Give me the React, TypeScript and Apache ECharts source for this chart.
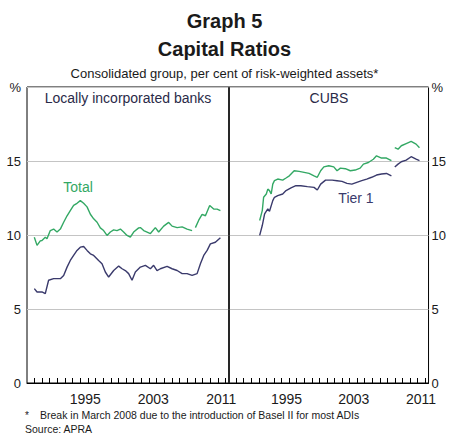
import React, { useEffect, useRef } from "react";
import * as echarts from "echarts";

// ---- Data (decimal year, per cent) ----
const banksTotalPre: [number, number][] = [
  [1989.51, 9.85], [1989.83, 9.3], [1990.21, 9.6], [1990.41, 9.63], [1990.8, 9.85], [1991.0, 9.74],
  [1991.39, 10.3], [1991.78, 10.4], [1992.18, 10.2], [1992.57, 10.4], [1992.96, 10.86], [1993.36, 11.3],
  [1993.74, 11.65], [1994.13, 12.0], [1994.53, 12.14], [1994.92, 12.32], [1995.31, 12.14], [1995.71, 11.9],
  [1996.1, 11.4], [1996.49, 11.09], [1996.89, 10.86], [1997.27, 10.48], [1997.66, 10.3], [1998.06, 9.97],
  [1998.45, 10.2], [1998.84, 10.35], [1999.23, 10.3], [1999.63, 10.4], [2000.01, 10.2], [2000.41, 9.97],
  [2000.8, 9.85], [2001.19, 10.2], [2001.78, 10.48], [2001.98, 10.5], [2002.37, 10.3], [2002.77, 10.2],
  [2003.16, 10.1], [2003.74, 10.5], [2004.13, 10.2], [2004.72, 10.6], [2005.31, 10.85], [2005.71, 10.6],
  [2006.3, 10.5], [2006.89, 10.55], [2007.47, 10.4], [2008.06, 10.3],
];
const banksTotalPost: [number, number][] = [
  [2008.45, 10.5], [2008.84, 11.0], [2009.24, 11.4], [2009.63, 11.3], [2010.13, 12.0], [2010.6, 11.75],
  [2011.0, 11.75], [2011.39, 11.65],
];
const banksTier1: [number, number][] = [
  [1989.51, 6.38], [1989.83, 6.15], [1990.41, 6.15], [1990.8, 6.04], [1991.19, 6.94], [1991.78, 7.05],
  [1992.57, 7.05], [1992.96, 7.27], [1993.36, 7.83], [1993.74, 8.28], [1994.13, 8.62], [1994.53, 8.96],
  [1994.92, 9.18], [1995.31, 9.22], [1995.71, 8.96], [1996.1, 8.73], [1996.49, 8.62], [1997.07, 8.28],
  [1997.47, 8.06], [1997.86, 7.5], [1998.25, 7.16], [1998.84, 7.6], [1999.43, 7.9], [1999.83, 7.72],
  [2000.21, 7.6], [2000.6, 7.39], [2001.0, 6.94], [2001.39, 7.5], [2001.98, 7.83], [2002.57, 7.95],
  [2003.16, 7.72], [2003.54, 7.95], [2003.94, 7.6], [2004.33, 7.72], [2005.12, 7.88], [2005.71, 7.72],
  [2006.3, 7.6], [2006.89, 7.39], [2007.47, 7.39], [2008.06, 7.27], [2008.65, 7.39], [2009.04, 8.06],
  [2009.43, 8.62], [2009.83, 8.96], [2010.21, 9.4], [2010.8, 9.51], [2011.39, 9.81],
];
const cubsTotalPre: [number, number][] = [
  [1992.3, 10.98], [1992.61, 11.65], [1992.77, 12.55], [1993.09, 12.77], [1993.27, 13.1], [1993.47, 13.0],
  [1993.67, 12.77], [1993.86, 13.44], [1994.06, 13.67], [1994.45, 13.78], [1995.04, 13.71], [1995.44, 13.85],
  [1995.83, 14.0], [1996.41, 14.34], [1997.0, 14.3], [1997.59, 14.23], [1998.18, 14.16], [1998.77, 14.0],
  [1999.16, 13.9], [1999.56, 14.34], [1999.94, 14.6], [2000.53, 14.68], [2001.12, 14.6], [2001.51, 14.34],
  [2001.91, 14.52], [2002.5, 14.48], [2003.09, 14.34], [2003.67, 14.39], [2004.26, 14.52], [2004.65, 14.79],
  [2005.24, 14.9], [2005.83, 15.12], [2006.21, 15.35], [2006.8, 15.2], [2007.39, 15.2], [2007.98, 15.02],
];
const cubsTotalPost: [number, number][] = [
  [2008.38, 15.9], [2008.77, 15.8], [2009.16, 16.03], [2009.74, 16.18], [2010.33, 16.32], [2010.92, 16.14],
  [2011.32, 15.9],
];
const cubsTier1Pre: [number, number][] = [
  [1992.3, 9.97], [1992.61, 10.64], [1992.89, 11.43], [1993.27, 11.76], [1993.47, 11.6], [1993.86, 12.32],
  [1994.06, 12.55], [1994.45, 12.66], [1995.04, 12.77], [1995.44, 13.0], [1996.03, 13.18], [1996.61, 13.33],
  [1997.2, 13.33], [1997.98, 13.27], [1998.77, 13.22], [1999.16, 13.04], [1999.56, 13.44], [2000.14, 13.71],
  [2000.92, 13.71], [2001.51, 13.67], [2002.1, 13.62], [2002.69, 13.49], [2003.27, 13.44], [2003.86, 13.56],
  [2004.45, 13.67], [2005.04, 13.78], [2005.63, 13.9], [2006.21, 14.05], [2006.8, 14.12], [2007.39, 14.16],
  [2007.98, 14.0],
];
const cubsTier1Post: [number, number][] = [
  [2008.38, 14.6], [2008.77, 14.79], [2009.16, 14.95], [2009.74, 15.06], [2010.33, 15.29], [2010.92, 15.12],
  [2011.32, 15.02],
];

const xLabelYears = ["1995", "2003", "2011"];
const xLabelPositions = [1995.5, 2003.5, 2011.5];
const xMin = 1988.65;
const xMax = 2012.4;
const tickStart = 1989.5;
const tickStep = 0.9;
const xTickValues: number[] = [];
for (let t = tickStart; t <= xMax - 0.2; t += tickStep) xTickValues.push(+t.toFixed(3));

const panelTitles = ["Locally incorporated banks", "CUBS"];

const GREEN = "#33a864";
const NAVY = "#3a3a6c";
const FONT = "Liberation Sans, Arial, sans-serif";

export default function App() {
  const ref = useRef<HTMLDivElement>(null);
  useEffect(() => {
    if (!ref.current) return;
    const chart = echarts.init(ref.current, null, { renderer: "svg" });

    const xAxisBase = (gridIndex: number) => ({
      type: "value",
      gridIndex,
      min: xMin,
      max: xMax,
      axisLine: { show: true, lineStyle: { color: "#000", width: 1 } },
      axisTick: {
        show: true,
        inside: true,
        length: 5,
        customValues: xTickValues,
        lineStyle: { color: "#000", width: 1 },
      },
      axisLabel: {
        customValues: xLabelPositions,
        formatter: (v: number) => {
          const i = xLabelPositions.findIndex((p) => Math.abs(p - v) < 0.01);
          return i >= 0 ? xLabelYears[i] : "";
        },
        color: "#1a1a1a",
        fontSize: 14,
        fontFamily: FONT,
        margin: 9,
        showMinLabel: true,
        showMaxLabel: true,
      },
      splitLine: { show: false },
    });

    const yAxisBase = (gridIndex: number, position: string) => ({
      type: "value",
      gridIndex,
      position,
      min: 0,
      max: 20,
      interval: 5,
      axisLine: { show: false },
      axisTick: { show: false },
      axisLabel: {
        formatter: (v: number) => (v === 20 ? "%" : String(v)),
        color: "#1a1a1a",
        fontSize: 13,
        fontFamily: FONT,
        margin: position === "left" ? 6 : 3,
      },
      splitLine: { show: true, lineStyle: { color: "#c4c4c4", width: 1.2 } },
    });

    const line = (data: [number, number][], color: string, idx: number) => ({
      type: "line",
      data,
      xAxisIndex: idx,
      yAxisIndex: idx,
      showSymbol: false,
      symbol: "none",
      lineStyle: { color, width: 1.4 },
      silent: true,
      z: 3,
    });

    chart.setOption({
      animation: false,
      backgroundColor: "#fff",
      title: [
        {
          text: "Graph 5",
          left: "center",
          top: 6,
          textStyle: { fontSize: 20, fontWeight: "bold", fontFamily: FONT, color: "#1a1a1a" },
        },
        {
          text: "Capital Ratios",
          left: "center",
          top: 34,
          textStyle: { fontSize: 20, fontWeight: "bold", fontFamily: FONT, color: "#1a1a1a" },
        },
        {
          text: "Consolidated group, per cent of risk-weighted assets*",
          left: "center",
          top: 62,
          textStyle: { fontSize: 13, fontWeight: "normal", fontFamily: FONT, color: "#1a1a1a" },
        },
      ],
      grid: [
        { left: 27, top: 87, width: 202, height: 296, show: true, borderColor: "#000", borderWidth: 1, backgroundColor: "transparent" },
        { left: 229, top: 87, width: 203, height: 296, show: true, borderColor: "#000", borderWidth: 1, backgroundColor: "transparent" },
      ],
      xAxis: [xAxisBase(0), xAxisBase(1)],
      yAxis: [yAxisBase(0, "left"), yAxisBase(1, "right")],
      series: [
        line(banksTotalPre, GREEN, 0),
        line(banksTotalPost, GREEN, 0),
        line(banksTier1, NAVY, 0),
        line(cubsTotalPre, GREEN, 1),
        line(cubsTotalPost, GREEN, 1),
        line(cubsTier1Pre, NAVY, 1),
        line(cubsTier1Post, NAVY, 1),
      ],
      graphic: [
        {
          type: "line",
          shape: { x1: 229, y1: 87, x2: 229, y2: 383 },
          style: { stroke: "#222", lineWidth: 1.6 },
          z: 10,
        },
        {
          type: "text",
          x: 128,
          y: 98,
          style: { text: panelTitles[0], fontSize: 14, fontFamily: FONT, fill: "#2a2a48", align: "center", verticalAlign: "middle" },
        },
        {
          type: "text",
          x: 329,
          y: 98,
          style: { text: panelTitles[1], fontSize: 14, fontFamily: FONT, fill: "#2a2a48", align: "center", verticalAlign: "middle" },
        },
        {
          type: "text",
          x: 78,
          y: 187,
          style: { text: "Total", fontSize: 14, fontFamily: FONT, fill: GREEN, align: "center", verticalAlign: "middle" },
        },
        {
          type: "text",
          x: 356,
          y: 198,
          style: { text: "Tier 1", fontSize: 14, fontFamily: FONT, fill: NAVY, align: "center", verticalAlign: "middle" },
        },
        {
          type: "text",
          x: 25,
          y: 415,
          style: { text: "*", fontSize: 10, fontFamily: FONT, fill: "#1a1a1a", verticalAlign: "middle" },
        },
        {
          type: "text",
          x: 40,
          y: 415,
          style: {
            text: "Break in March 2008 due to the introduction of Basel II for most ADIs",
            fontSize: 10.5,
            fontFamily: FONT,
            fill: "#1a1a1a",
            verticalAlign: "middle",
          },
        },
        {
          type: "text",
          x: 25,
          y: 429,
          style: { text: "Source: APRA", fontSize: 10.5, fontFamily: FONT, fill: "#1a1a1a", verticalAlign: "middle" },
        },
      ],
    });
    return () => chart.dispose();
  }, []);

  return <div ref={ref} style={{ position: "fixed", left: 0, top: 0, width: 449, height: 435 }} />;
}
